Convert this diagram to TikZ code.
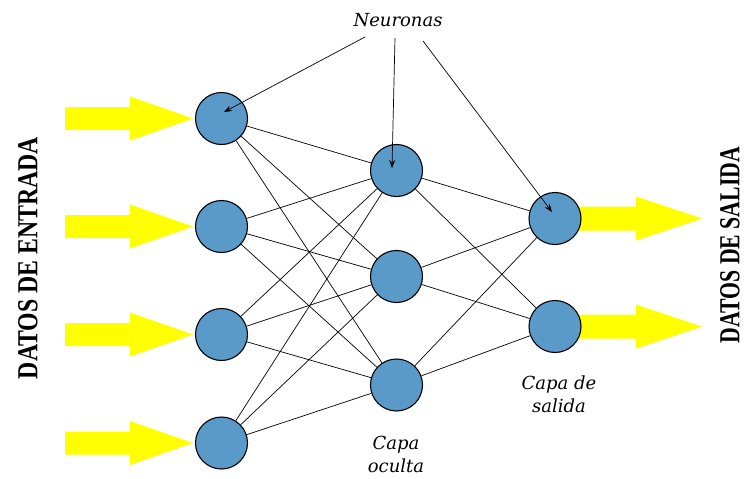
\documentclass[tikz,border=0pt]{standalone}
\usepackage{fontspec}
\setmainfont{Liberation Serif}
\newfontfamily\lblfont{DejaVu Serif}
\usetikzlibrary{arrows.meta,calc}
\definecolor{neuron}{RGB}{90,154,200}
\definecolor{flow}{RGB}{255,255,0}
\begin{document}
\begin{tikzpicture}[x=1pt,y=-1pt,
  neu/.style={circle,draw=black,line width=1.1pt,fill=neuron,minimum size=52pt,inner sep=0pt},
  conn/.style={line width=0.7pt,black},
  ptr/.style={line width=0.7pt,black,-{Stealth[length=8pt,width=6pt]}},
  lbl/.style={font=\lblfont\itshape\fontsize{18}{23}\selectfont,align=center,inner sep=0pt},
  side/.style={font=\bfseries\fontsize{29}{29}\selectfont,rotate=90,inner sep=0pt}]
\useasboundingbox[fill=white] (0,0) rectangle (745,479);
% input arrows
\foreach \cy in {118.5,226.5,334.5,443}{
  \fill[flow] (65,\cy-11.5) -- (130,\cy-11.5) -- (130,\cy-22) -- (193,\cy)
    -- (130,\cy+22) -- (130,\cy+11.5) -- (65,\cy+11.5) -- cycle;
}
% output arrows
\foreach \cy in {218.5,326.5}{
  \fill[flow] (560,\cy-12) -- (636,\cy-12) -- (636,\cy-22) -- (702,\cy)
    -- (636,\cy+22) -- (636,\cy+12) -- (560,\cy+12) -- cycle;
}
% neurons
\node[neu] (i1) at (221.5,118.5) {};
\node[neu] (i2) at (221.5,226.5) {};
\node[neu] (i3) at (221.5,334.5) {};
\node[neu] (i4) at (221.5,443) {};
\node[neu] (h1) at (396.5,170.5) {};
\node[neu] (h2) at (396.5,276.5) {};
\node[neu] (h3) at (396.5,385) {};
\node[neu] (o1) at (555,218.5) {};
\node[neu] (o2) at (555,326.5) {};
% connections
\foreach \a in {i1,i2,i3,i4}{\foreach \b in {h1,h2,h3}{\draw[conn] (\a) -- (\b);}}
\foreach \a in {h1,h2,h3}{\foreach \b in {o1,o2}{\draw[conn] (\a) -- (\b);}}
% labels
\node[lbl] (neur) at (398,20) {Neuronas};
\coordinate (s1) at (365,37);
\coordinate (s2) at (395,38);
\coordinate (s3) at (423,41);
\coordinate (t1) at (224,112);
\coordinate (t2) at (392,168);
\coordinate (t3) at (552,212);
\draw[ptr] (s1) -- (t1);
\draw[ptr] (s2) -- (t2);
\draw[ptr] (s3) -- (t3);
\node[lbl] (oc) at (396,454) {Capa\\oculta};
\node[lbl] (sa) at (559,394) {Capa de\\salida};
\node[side] (ent) at (28,258) {\scalebox{0.82}[1]{DATOS DE ENTRADA}};
\node[side] (sal) at (730,245) {\scalebox{0.75}[1]{DATOS DE SALIDA}};
\end{tikzpicture}
\end{document}
